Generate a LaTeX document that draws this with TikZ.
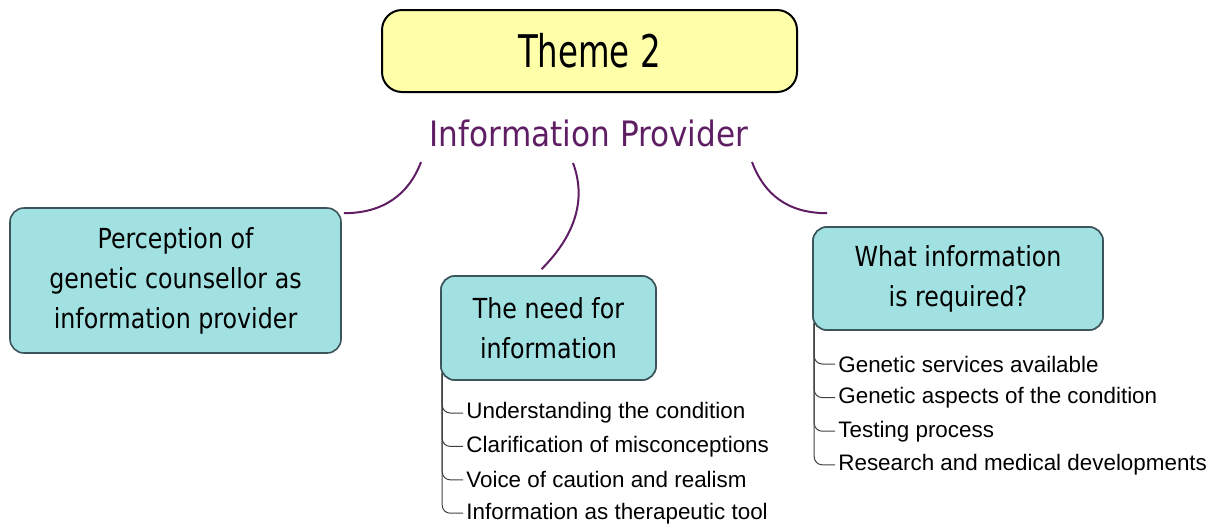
\documentclass[tikz,border=0pt]{standalone}
\usepackage{fontspec}
\setmainfont{Liberation Sans}
\newfontfamily\themefont[FakeStretch=0.72]{DejaVu Sans}
\newfontfamily\provfont[FakeStretch=0.89]{DejaVu Sans}
\newfontfamily\boxfont[FakeStretch=0.86]{DejaVu Sans}
\usetikzlibrary{positioning}

\definecolor{themefill}{RGB}{255,255,170}
\definecolor{boxfill}{RGB}{162,225,226}
\definecolor{boxline}{RGB}{60,85,90}
\definecolor{linkcol}{RGB}{95,30,100}

\begin{document}
\begin{tikzpicture}[x=0.5pt,y=-0.5pt,
    theme node/.style={draw,line width=1pt,fill=themefill,rounded corners=10pt,
        minimum width=207.5pt,minimum height=41pt,font=\themefont\fontsize{22.5}{26}\selectfont},
    main node/.style={draw=boxline,line width=0.8pt,fill=boxfill,rounded corners=7pt,
        align=center,font=\boxfont\fontsize{13.8}{20}\selectfont},
    item/.style={anchor=west,inner sep=1.5pt,font=\fontsize{11.2}{13}\selectfont},
    link/.style={draw=linkcol,line width=1pt},
    branch/.style={draw=black!75,line width=0.5pt,rounded corners=4pt}]

  \useasboundingbox (0,0) rectangle (1221,526);

  \node[theme node] (theme) at (589.5,51) {Theme 2};
  \node[text=linkcol,font=\provfont\fontsize{17.5}{20}\selectfont] (prov) at (589,133) {Information Provider};

  \node[main node,minimum width=165.5pt,minimum height=72.5pt] (perc) at (175.5,280.5)
      {Perception of\\genetic counsellor as\\information provider};
  \node[main node,minimum width=107.5pt,minimum height=52pt] (need) at (548.5,328)
      {The need for\\information};
  \node[main node,minimum width=145pt,minimum height=51.5pt] (what) at (958,278.5)
      {What information\\is required?};

  % curves from the title
  \coordinate (lnkA) at (421,162);
  \coordinate (lnkB) at (573,163);
  \coordinate (lnkC) at (752,162);
  \path[link] (lnkA) .. controls +(-12,32) and +(40,0) .. ([shift={(2,6)}]perc.north east);
  \path[link] (lnkB) .. controls +(15,40) and +(30,-30) .. ([shift={(-7,-6)}]need.north);
  \path[link] (lnkC) .. controls +(12,32) and +(-40,0) .. ([shift={(15,-13)}]what.north west);

  % lists
  \foreach \txt [count=\i] in {Understanding the condition,Clarification of misconceptions,
      Voice of caution and realism,Information as therapeutic tool}
    \node[item] (need\i) at (463,{413+33.4*(\i-1)}) {\txt};
  \foreach \txt [count=\i] in {Genetic services available,Genetic aspects of the condition,
      Testing process,Research and medical developments}
    \node[item] (what\i) at (835,{364+33.6*(\i-1)}) {\txt};

  \coordinate (needroot) at ([xshift=1pt,yshift=4pt]need.south west);
  \coordinate (whatroot) at ([xshift=1pt,yshift=4pt]what.south west);
  \foreach \i in {1,...,4} {
    \path[branch] (needroot) |- (need\i.west);
    \path[branch] (whatroot) |- (what\i.west);
  }
  % boxes again on top of the stems
  \node[main node,minimum width=107.5pt,minimum height=52pt] at (need) {The need for\\information};
  \node[main node,minimum width=145pt,minimum height=51.5pt] at (what) {What information\\is required?};
\end{tikzpicture}
\end{document}
